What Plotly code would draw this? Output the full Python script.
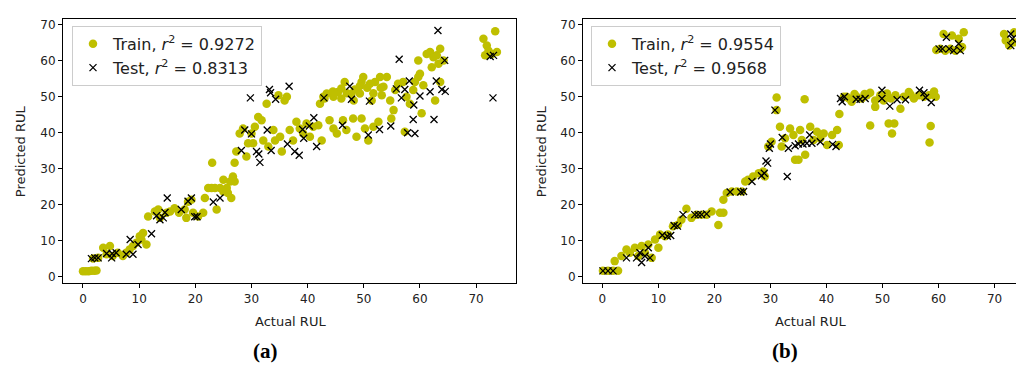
import plotly.graph_objects as go

# ---------------- data (a) ----------------
a_train_x = [0.0, 0.5, 1.0, 1.5, 2.0, 2.4, 1.8, 2.7, 3.6, 4.8, 4.2, 5.3, 6.2, 7.1, 7.7, 8.3, 8.9, 9.5, 10.1, 10.7,
             11.3, 10.4, 11.6, 12.8, 13.4, 13.7, 14.9, 15.5, 16.3, 17.1, 18.1, 18.4, 19.3, 18.7, 19.6, 20.5, 21.4,
             21.7, 22.3, 22.9, 23.5, 23.8, 24.4, 25.0, 25.6, 26.2, 26.4, 26.7, 27.0, 25.8, 25.0, 23.0,
             27.0, 27.3, 27.9, 28.5, 29.1, 29.4, 30.0, 30.3, 30.6, 31.2, 31.8, 32.1, 32.7, 33.0, 33.9, 34.2, 34.8,
             35.1, 35.4, 35.9, 36.3, 36.8, 37.4, 38.0, 38.6, 39.2, 39.8, 40.4, 41.0, 41.9, 42.5, 42.2, 42.8, 43.4,
             43.9, 44.6, 45.2, 44.6, 45.4, 46.0, 46.6, 46.3, 46.9, 48.1, 48.7, 49.3, 49.6, 49.6, 49.9, 50.2, 50.8,
             51.1, 51.4, 51.7, 52.0, 52.6, 52.9, 53.2, 53.5, 54.1, 54.7, 54.9, 55.3, 55.6, 56.1, 57.0, 57.3, 57.6,
             58.2, 58.8, 59.7, 59.7, 60.3, 60.6, 61.2, 61.8, 62.1, 62.4, 62.7, 63.0, 63.3, 63.6, 63.6, 64.2, 59.1,
             60.0, 43.0, 44.5, 46.0, 47.8, 48.4, 49.3, 50.6, 51.7, 53.0, 47.0, 48.2,
             71.3, 71.9, 71.6, 72.8, 73.4, 73.7, 72.2]
a_train_y = [1.6, 1.6, 1.6, 1.7, 1.7, 1.8, 5.1, 5.3, 8.1, 8.6, 6.3, 5.8, 6.7, 5.8, 6.7, 7.6, 8.6, 9.5, 11.3, 12.2,
             9.0, 10.4, 16.8, 18.2, 18.7, 16.4, 17.8, 18.2, 19.1, 17.8, 18.7, 16.4, 21.4, 20.9, 17.8, 16.8, 17.8,
             21.9, 24.7, 24.7, 24.7, 18.7, 24.7, 27.0, 24.7, 26.5, 21.9, 27.9, 26.5, 23.3, 23.7, 31.7,
             31.7, 34.8, 39.8, 41.2, 33.4, 37.1, 39.8, 37.1, 41.7, 44.4, 43.5, 37.9, 48.1, 36.2, 40.8, 37.9, 50.4,
             38.9, 34.8, 49.0, 50.0, 40.8, 37.9, 43.1, 41.2, 39.8, 42.6, 38.9, 41.7, 42.1, 37.9, 48.1, 50.0, 50.9,
             43.5, 41.2, 39.8, 50.0, 51.3, 52.3, 54.1, 43.5, 40.8, 44.0, 38.9, 50.9, 44.0, 54.1, 55.5, 41.2, 37.9,
             53.6, 49.0, 41.7, 54.1, 43.1, 55.5, 50.4, 52.8, 55.5, 49.0, 44.0, 46.3, 51.9, 53.6, 54.1, 40.3, 50.0,
             48.1, 51.9, 60.1, 55.5, 45.4, 53.2, 61.9, 62.4, 58.2, 61.0, 49.0, 61.5, 59.2, 54.1, 63.3, 60.1, 54.1,
             56.4, 49.5, 51.5, 49.5, 50.8, 52.0, 53.0, 52.5, 51.0, 52.5, 51.0, 49.0,
             66.1, 64.2, 61.5, 61.9, 68.2, 62.4, 62.8]
a_test_x = [1.5, 2.1, 2.7, 4.2, 5.1, 5.2, 5.9, 7.7, 8.4, 8.9, 9.8, 12.2, 13.1, 13.7, 14.3, 14.6, 15.0, 17.5, 18.7,
            19.3, 19.9, 20.3, 23.2, 24.4, 28.2, 28.8, 29.8, 30.0, 30.9, 31.3, 31.5, 32.8, 33.2, 33.4, 33.5, 34.3,
            36.4, 36.7, 37.7, 38.5, 39.1, 39.3, 40.3, 41.1, 41.6, 42.9, 46.2, 47.5, 47.8, 50.8, 51.0, 52.8, 54.8,
            55.8, 56.3, 56.7, 57.3, 57.8, 58.1, 58.9, 58.8, 59.1, 60.0, 61.8, 62.5, 62.9, 63.2, 63.9, 64.4, 64.5,
            72.5, 73.1, 73.0]
a_test_y = [5.1, 5.3, 5.3, 6.5, 5.3, 6.5, 6.7, 6.3, 10.4, 6.3, 9.0, 12.0, 17.0, 15.9, 16.4, 17.9, 21.9, 18.7, 21.0,
            21.9, 16.7, 16.7, 20.8, 21.9, 35.1, 40.8, 49.7, 39.7, 34.8, 34.1, 31.8, 40.8, 52.0, 51.1, 35.1, 49.3,
            36.9, 52.9, 34.8, 33.8, 40.9, 38.5, 41.9, 44.2, 36.2, 49.7, 42.1, 52.9, 49.3, 39.4, 48.8, 40.9, 41.9,
            52.2, 60.4, 49.7, 52.0, 40.0, 54.4, 47.7, 43.7, 39.8, 50.2, 51.4, 43.7, 54.4, 68.4, 52.0, 60.1, 51.5,
            61.2, 61.5, 49.7]

# ---------------- data (b) ----------------
b_train_x = [0.1, 1.0, 1.9, 2.8, 2.2, 3.4, 4.3, 4.9, 5.8, 6.4, 7.0, 7.6, 8.2, 8.8, 9.4, 10.0, 10.3, 11.2, 11.7,
             12.6, 13.5, 14.1, 15.0, 15.9, 16.8, 17.7, 18.6, 19.5, 20.7, 21.0, 21.6, 21.6, 22.2, 23.1, 24.0, 24.9,
             25.5, 26.0, 26.9, 27.9, 28.7, 29.0, 29.6, 30.2, 31.1, 31.1, 31.7, 32.0, 32.6, 33.5, 34.1, 34.4, 35.0,
             35.3, 35.6, 36.1, 36.2, 37.1, 37.7, 38.3, 38.9, 39.5, 40.1, 41.0, 41.9, 42.2, 42.3, 43.1, 43.6, 44.5,
             45.4, 46.3, 47.2, 47.8, 47.8, 48.7, 48.7, 49.6, 50.2, 50.8, 51.1, 51.7, 52.1, 52.3, 53.2, 53.8, 54.7,
             55.6, 56.5, 57.4, 58.3, 58.6, 58.4, 59.2, 59.5, 44.0, 45.0, 46.8, 51.5, 55.0,
             59.6, 60.3, 60.9, 61.2, 62.1, 62.4, 63.0, 63.6, 63.9, 64.5, 64.2, 71.7, 72.0, 72.6, 73.5, 73.5]
b_train_y = [1.7, 1.7, 1.7, 1.7, 4.4, 5.8, 7.6, 6.7, 8.1, 5.8, 8.6, 6.7, 9.0, 5.3, 10.4, 8.1, 11.8, 11.3, 11.8,
             14.1, 14.5, 15.9, 18.9, 16.4, 17.3, 17.3, 17.3, 18.2, 14.4, 17.8, 17.8, 21.4, 23.3, 23.7, 23.7, 23.7,
             26.5, 27.0, 27.9, 28.8, 29.3, 27.9, 36.2, 37.5, 49.8, 46.3, 41.7, 36.2, 38.5, 41.2, 39.4, 32.5, 32.5,
             40.8, 38.0, 49.3, 33.9, 41.7, 38.0, 40.3, 38.5, 39.8, 36.6, 39.4, 40.8, 36.6, 45.2, 50.0, 50.0, 48.6,
             50.0, 49.5, 50.4, 51.1, 42.0, 49.0, 47.2, 50.4, 49.0, 50.9, 42.6, 39.8, 42.6, 50.4, 46.7, 50.0, 51.3,
             49.5, 50.4, 50.0, 50.4, 41.9, 37.3, 51.5, 50.0, 49.5, 50.8, 50.8, 49.5, 50.6,
             63.0, 63.3, 67.4, 62.8, 63.3, 67.0, 62.8, 66.1, 63.3, 67.9, 63.8, 67.4, 65.6, 64.2, 67.9, 65.1]
b_test_x = [0.1, 1.0, 1.9, 4.3, 6.1, 6.7, 7.0, 7.6, 8.2, 8.5, 10.7, 11.6, 12.2, 12.8, 13.4, 14.4, 16.5, 17.1, 17.7,
            18.6, 22.8, 24.7, 25.2, 26.7, 28.4, 28.9, 29.2, 29.5, 29.8, 30.0, 30.8, 32.1, 33.0, 33.2, 34.4, 35.0,
            35.8, 36.5, 37.0, 37.4, 38.9, 41.1, 41.7, 42.5, 42.8, 43.2, 45.3, 46.0, 46.9, 49.9, 49.9, 51.3, 52.6,
            54.1, 56.6, 57.4, 57.7, 58.7, 60.1, 60.7, 61.4, 61.9, 62.7, 63.6, 63.9, 72.9, 73.2, 72.9]
b_test_y = [1.7, 1.7, 1.7, 5.3, 5.3, 6.7, 4.0, 5.8, 8.1, 5.3, 11.6, 11.3, 11.5, 14.3, 14.1, 17.3, 17.3, 17.3, 17.3,
            17.5, 23.6, 23.6, 23.7, 26.5, 28.1, 28.8, 32.2, 31.6, 35.7, 36.9, 46.3, 38.7, 27.9, 35.7, 36.4, 36.9,
            36.9, 37.1, 39.4, 37.1, 37.5, 36.8, 36.2, 49.5, 48.6, 50.0, 49.3, 49.3, 49.5, 51.8, 49.5, 47.4, 49.2,
            49.2, 51.8, 51.1, 49.8, 48.4, 63.3, 63.3, 66.5, 63.3, 62.8, 64.7, 62.8, 67.4, 66.1, 64.2]

x_ticks = [0, 10, 20, 30, 40, 50, 60, 70]
y_ticks = [0, 10, 20, 30, 40, 50, 60, 70]
labels_a = ["Train, <i>r</i><sup>2</sup> = 0.9272", "Test, <i>r</i><sup>2</sup> = 0.8313"]
labels_b = ["Train, <i>r</i><sup>2</sup> = 0.9554", "Test, <i>r</i><sup>2</sup> = 0.9568"]

# page body has an 8px margin: work in screen pixels and shift by OFF
OFF = 8
W, H = 1024 - OFF, 368 - OFF
FONT = "DejaVu Sans"
YEL = "#bfbf00"

def px(xs):
    return (xs - OFF) / W

def py(ys):
    return 1 - (ys - OFF) / H

fig = go.Figure()

def add_panel(tx, ty, sx, sy, labels, xa, ya, leg):
    fig.add_trace(go.Scatter(x=tx, y=ty, mode="markers", name=labels[0], xaxis=xa, yaxis=ya, legend=leg,
                             marker=dict(color=YEL, size=8.5, line=dict(width=0))))
    fig.add_trace(go.Scatter(x=sx, y=sy, mode="markers", name=labels[1], xaxis=xa, yaxis=ya, legend=leg,
                             marker=dict(color="black", symbol="x-thin-open", size=7,
                                         line=dict(width=1.3, color="black"))))

add_panel(a_train_x, a_train_y, a_test_x, a_test_y, labels_a, "x", "y", "legend")
add_panel(b_train_x, b_train_y, b_test_x, b_test_y, labels_b, "x2", "y2", "legend2")

ax_common = dict(showgrid=False, zeroline=False, showline=True, mirror=True, linecolor="black", linewidth=1,
                 ticks="outside", ticklen=4, tickcolor="black", tickfont=dict(family=FONT, size=12, color="#222"),
                 tickvals=x_ticks)
ydom = [py(284), py(18)]
leg_common = dict(xanchor="left", yanchor="top", bordercolor="#cccccc", borderwidth=1,
                  bgcolor="rgba(255,255,255,0.8)", font=dict(family=FONT, size=16, color="#222"), tracegroupgap=0)
fig.update_layout(
    width=W, height=H, margin=dict(l=0, r=0, t=0, b=0),
    paper_bgcolor="white", plot_bgcolor="white",
    xaxis=dict(ax_common, domain=[px(63), px(516)], range=[-3.56, 77.1], anchor="y"),
    yaxis=dict(ax_common, domain=ydom, range=[-1.8, 71.6], anchor="x", tickvals=y_ticks),
    xaxis2=dict(ax_common, domain=[px(583), min(1.0, px(1022))], range=[-3.46, 74.9], anchor="y2"),
    yaxis2=dict(ax_common, domain=ydom, range=[-1.8, 71.6], anchor="x2", tickvals=y_ticks),
    legend=dict(leg_common, x=px(72), y=py(25)),
    legend2=dict(leg_common, x=px(591), y=py(25)),
    showlegend=True,
)

annots = [
    dict(text="Predicted RUL", x=px(20), y=py(151), textangle=-90),
    dict(text="Predicted RUL", x=px(541), y=py(151), textangle=-90),
    dict(text="Actual RUL", x=px(290), y=py(322)),
    dict(text="Actual RUL", x=px(810), y=py(322)),
]
for a in annots:
    fig.add_annotation(xref="paper", yref="paper", showarrow=False, xanchor="center", yanchor="middle",
                       font=dict(family=FONT, size=13, color="#222"), **a)
for t, xx in [("(a)", 265), ("(b)", 785)]:
    fig.add_annotation(xref="paper", yref="paper", showarrow=False, xanchor="center", yanchor="middle",
                       text="<b>" + t + "</b>", x=px(xx), y=py(352),
                       font=dict(family="Liberation Serif", size=21, color="black"))

fig.write_html("out.html")
